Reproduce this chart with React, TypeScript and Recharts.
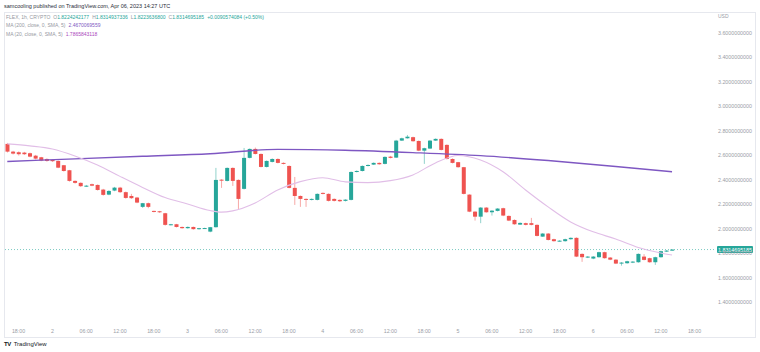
import React from "react";
import { ComposedChart, Bar, Line, XAxis, YAxis, ReferenceLine } from "recharts";

// FLEX 1h candles, 1 Apr 16:00 -> 6 Apr 14:00 (UTC)
const openP = [
  2.694, 2.631, 2.626, 2.623, 2.618, 2.598, 2.585, 2.571, 2.563, 2.555,
  2.52, 2.479, 2.392, 2.376, 2.349, 2.365, 2.359, 2.321, 2.28, 2.313,
  2.337, 2.3, 2.269, 2.256, 2.18, 2.21, 2.147, 2.144, 2.128, 2.033,
  2.038, 2.016, 2.006, 2.016, 1.998, 2.006, 1.978, 2.014, 2.402, 2.392,
  2.498, 2.4, 2.327, 2.58, 2.653, 2.612, 2.506, 2.547, 2.571, 2.539,
  2.514, 2.335, 2.269, 2.245, 2.237, 2.237, 2.294, 2.286, 2.245, 2.237,
  2.229, 2.237, 2.465, 2.473, 2.514, 2.525, 2.539, 2.531, 2.59, 2.582,
  2.721, 2.74, 2.749, 2.718, 2.639, 2.656, 2.721, 2.735, 2.686, 2.571,
  2.545, 2.504, 2.28, 2.141, 2.1, 2.174, 2.136, 2.147, 2.169, 2.106,
  2.073, 2.035, 2.047, 2.047, 2.033, 1.937, 1.962, 1.916, 1.9, 1.9,
  1.916, 1.927, 1.796, 1.766, 1.758, 1.769, 1.81, 1.766, 1.749, 1.717,
  1.72, 1.725, 1.728, 1.774, 1.761, 1.728, 1.769, 1.815, 1.8224,
];
const highP = [
  2.702, 2.637, 2.633, 2.629, 2.623, 2.604, 2.588, 2.576, 2.567, 2.559,
  2.522, 2.482, 2.396, 2.38, 2.359, 2.37, 2.363, 2.327, 2.316, 2.343,
  2.343, 2.305, 2.286, 2.261, 2.212, 2.215, 2.149, 2.147, 2.131, 2.041,
  2.041, 2.019, 2.02, 2.019, 2.008, 2.01, 2.016, 2.498, 2.406, 2.502,
  2.502, 2.404, 2.661, 2.657, 2.664, 2.616, 2.559, 2.576, 2.576, 2.543,
  2.518, 2.424, 2.273, 2.249, 2.249, 2.29, 2.298, 2.29, 2.249, 2.241,
  2.242, 2.469, 2.478, 2.518, 2.527, 2.543, 2.543, 2.592, 2.596, 2.727,
  2.745, 2.767, 2.753, 2.722, 2.663, 2.725, 2.739, 2.739, 2.69, 2.576,
  2.547, 2.506, 2.283, 2.144, 2.178, 2.178, 2.153, 2.17, 2.173, 2.11,
  2.078, 2.053, 2.051, 2.09, 2.037, 1.966, 1.966, 1.92, 1.908, 1.92,
  1.931, 1.931, 1.8, 1.778, 1.778, 1.814, 1.814, 1.77, 1.753, 1.729,
  1.74, 1.737, 1.8, 1.794, 1.765, 1.773, 1.822, 1.827, 1.8315,
];
const lowP = [
  2.624, 2.608, 2.599, 2.604, 2.585, 2.567, 2.553, 2.549, 2.547, 2.496,
  2.468, 2.386, 2.37, 2.343, 2.343, 2.349, 2.313, 2.272, 2.275, 2.308,
  2.294, 2.247, 2.245, 2.21, 2.171, 2.169, 2.135, 2.131, 2.027, 2.029,
  2.012, 2.002, 2.002, 1.994, 1.994, 2.002, 1.973, 2.011, 2.335, 2.388,
  2.351, 2.163, 2.322, 2.576, 2.608, 2.502, 2.502, 2.543, 2.535, 2.527,
  2.331, 2.196, 2.18, 2.18, 2.233, 2.233, 2.282, 2.224, 2.224, 2.22,
  2.224, 2.233, 2.461, 2.469, 2.51, 2.522, 2.524, 2.527, 2.576, 2.58,
  2.718, 2.737, 2.712, 2.635, 2.531, 2.653, 2.718, 2.641, 2.567, 2.535,
  2.5, 2.282, 2.137, 2.068, 2.047, 2.132, 2.109, 2.143, 2.104, 2.064,
  2.034, 2.033, 2.029, 2.029, 1.939, 1.935, 1.906, 1.896, 1.897, 1.896,
  1.912, 1.77, 1.731, 1.762, 1.753, 1.765, 1.757, 1.745, 1.713, 1.7,
  1.716, 1.721, 1.724, 1.743, 1.724, 1.706, 1.765, 1.812, 1.8224,
];
const closeP = [
  2.631, 2.615, 2.61, 2.61, 2.59, 2.574, 2.558, 2.555, 2.553, 2.5,
  2.473, 2.392, 2.376, 2.349, 2.353, 2.353, 2.318, 2.278, 2.31, 2.337,
  2.3, 2.253, 2.251, 2.215, 2.21, 2.18, 2.139, 2.136, 2.033, 2.038,
  2.016, 2.006, 2.016, 1.998, 2.006, 2.007, 2.014, 2.4, 2.394, 2.498,
  2.392, 2.245, 2.58, 2.653, 2.612, 2.506, 2.555, 2.571, 2.539, 2.531,
  2.335, 2.269, 2.245, 2.237, 2.245, 2.286, 2.286, 2.229, 2.229, 2.226,
  2.239, 2.465, 2.473, 2.514, 2.522, 2.539, 2.528, 2.588, 2.58, 2.721,
  2.74, 2.753, 2.716, 2.639, 2.659, 2.721, 2.735, 2.645, 2.571, 2.539,
  2.504, 2.286, 2.141, 2.1, 2.174, 2.136, 2.149, 2.166, 2.109, 2.068,
  2.038, 2.049, 2.033, 2.033, 1.943, 1.962, 1.91, 1.9, 1.904, 1.916,
  1.927, 1.774, 1.769, 1.774, 1.774, 1.81, 1.761, 1.749, 1.717, 1.725,
  1.736, 1.733, 1.796, 1.747, 1.728, 1.769, 1.818, 1.823, 1.8315,
];

// moving averages at sample candles: [candle index, value]
const ma200Pts: [number, number][] = [
  [0, 2.551], [12, 2.572], [24, 2.593], [36, 2.614], [48, 2.649], [60, 2.642],
  [72, 2.623], [84, 2.598], [96, 2.558], [108, 2.51], [118, 2.467],
];
const ma20Pts: [number, number][] = [
  [0, 2.694], [4, 2.678], [8, 2.653], [12, 2.596], [16, 2.522], [20, 2.429],
  [24, 2.339], [28, 2.256], [32, 2.204], [36, 2.15], [38, 2.137], [40, 2.147],
  [44, 2.212], [48, 2.318], [52, 2.386], [56, 2.418], [60, 2.384], [64, 2.378],
  [68, 2.394], [72, 2.441], [76, 2.539], [80, 2.6], [84, 2.563], [88, 2.467],
  [92, 2.318], [96, 2.18], [100, 2.057], [104, 1.976], [108, 1.918], [112, 1.849],
  [116, 1.804], [118, 1.787],
];

const xTickPos = [2, 8, 14, 20, 26, 32, 38, 44, 50, 56, 62, 68, 74, 80, 86, 92, 98, 104, 110, 116, 122];
const xTickLabels = [
  "18:00", "2", "06:00", "12:00", "18:00", "3", "06:00", "12:00", "18:00", "4", "06:00",
  "12:00", "18:00", "5", "06:00", "12:00", "18:00", "6", "06:00", "12:00", "18:00",
];
const yTicks = [1.4, 1.6, 1.8, 2.0, 2.2, 2.4, 2.6, 2.8, 3.0, 3.2, 3.4, 3.6];
const lastPrice = 1.8314695185;

const UP = "#26a69a";
const DOWN = "#ef5350";
const AXIS_TEXT = "#9a9da6";
const FONT = "'Liberation Sans', Arial, sans-serif";

const ma200Map = new Map(ma200Pts);
const ma20Map = new Map(ma20Pts);

const data = openP.map((o, i) => ({
  t: i,
  open: o,
  high: highP[i],
  low: lowP[i],
  close: closeP[i],
  range: [lowP[i], highP[i]],
  ma200: ma200Map.has(i) ? ma200Map.get(i) : null,
  ma20: ma20Map.has(i) ? ma20Map.get(i) : null,
}));

const Candle = (props: any) => {
  const { x, y, width, height, payload } = props;
  if (x == null || !payload) return null;
  const { open, close, high, low } = payload;
  const top = Math.min(y, y + height);
  const h = Math.abs(height);
  const k = high > low ? h / (high - low) : 0;
  const yO = top + (high - open) * k;
  const yC = top + (high - close) * k;
  const color = close >= open ? UP : DOWN;
  const cx = x + width / 2;
  const bodyTop = Math.min(yO, yC);
  const bodyH = Math.max(Math.abs(yO - yC), 1);
  return (
    <g>
      <line x1={cx} x2={cx} y1={top} y2={top + h} stroke={color} strokeOpacity={0.5} strokeWidth={1} />
      <rect x={cx - 2} y={bodyTop} width={4} height={bodyH} fill={color} />
    </g>
  );
};

const PriceTag = (props: any) => {
  const vb = props.viewBox;
  if (!vb) return null;
  const x = vb.x + vb.width + 3;
  return (
    <g>
      <rect x={x} y={vb.y - 3.5} width={36} height={7} fill={UP} rx={1} />
      <text x={x + 18} y={vb.y + 2} textAnchor="middle" fill="#fff" fontSize={5.3} fontFamily={FONT}>
        {lastPrice.toFixed(10)}
      </text>
    </g>
  );
};

const gray = { color: "#9598a1" };

export default function App() {
  return (
    <div style={{ position: "absolute", left: 0, top: 0, width: 760, height: 352, background: "#fff", fontFamily: FONT, overflow: "hidden" }}>
      <div style={{ position: "absolute", left: 4, top: 3, fontSize: 5.5, color: "#2a2e39", whiteSpace: "nowrap" }}>
        samcooling published on TradingView.com, Apr 06, 2023 14:27 UTC
      </div>
      <div style={{ position: "absolute", left: 4, top: 12, width: 750, height: 324, border: "1px solid #e6e8ee" }} />

      <ComposedChart
        width={760}
        height={352}
        data={data}
        margin={{ top: 12, right: 5, left: 4, bottom: 15 }}
        style={{ position: "absolute", left: 0, top: 0 }}
      >
        <XAxis
          dataKey="t"
          type="number"
          domain={[-0.586, 125.45]}
          allowDataOverflow
          ticks={xTickPos}
          interval={0}
          tickFormatter={(v) => xTickLabels[xTickPos.indexOf(v)] ?? ""}
          axisLine={false}
          tickLine={false}
          tickSize={0}
          tickMargin={7}
          height={15}
          tick={{ fill: AXIS_TEXT, fontSize: 5.3, fontFamily: FONT }}
        />
        <YAxis
          orientation="right"
          domain={[1.24, 3.771]}
          allowDataOverflow
          ticks={yTicks}
          interval={0}
          tickFormatter={(v) => Number(v).toFixed(10)}
          axisLine={false}
          tickLine={false}
          tickSize={0}
          tickMargin={4}
          width={41}
          tick={{ fill: AXIS_TEXT, fontSize: 5.3, fontFamily: FONT, textAnchor: "start" }}
        />
        <ReferenceLine y={lastPrice} stroke={UP} strokeOpacity={0.6} strokeDasharray="1 2" label={(p: any) => <PriceTag {...p} />} />
        <Bar dataKey="range" barSize={4} shape={(p: any) => <Candle {...p} />} isAnimationActive={false} />
        <Line dataKey="ma200" type="monotone" stroke="#7e57c2" strokeWidth={1.4} dot={false} connectNulls isAnimationActive={false} />
        <Line dataKey="ma20" type="monotone" stroke="#e1bee7" strokeWidth={1.1} dot={false} connectNulls isAnimationActive={false} />
      </ComposedChart>

      <div style={{ position: "absolute", left: 6, top: 13, lineHeight: "8.3px", fontSize: 5, whiteSpace: "nowrap" }}>
        <div>
          <span style={gray}>FLEX, 1h, CRYPTO</span>
          <span style={{ marginLeft: 3, ...gray }}>O</span><span style={{ color: UP }}>1.8224242177</span>
          <span style={{ marginLeft: 3, ...gray }}>H</span><span style={{ color: UP }}>1.8314937336</span>
          <span style={{ marginLeft: 3, ...gray }}>L</span><span style={{ color: UP }}>1.8223636800</span>
          <span style={{ marginLeft: 3, ...gray }}>C</span><span style={{ color: UP }}>1.8314695185</span>
          <span style={{ marginLeft: 3, color: UP }}>+0.0090574084 (+0.50%)</span>
        </div>
        <div>
          <span style={gray}>MA (200, close, 0, SMA, 5)</span>
          <span style={{ marginLeft: 3, color: "#7e57c2" }}>2.4670069559</span>
        </div>
        <div>
          <span style={gray}>MA (20, close, 0, SMA, 5)</span>
          <span style={{ marginLeft: 3, color: "#ab47bc" }}>1.7865843118</span>
        </div>
      </div>
      <div style={{ position: "absolute", left: 718, top: 13, fontSize: 5, color: AXIS_TEXT }}>USD</div>

      <div style={{ position: "absolute", left: 4, top: 341, fontSize: 6, color: "#131722", whiteSpace: "nowrap" }}>
        <span style={{ fontWeight: 700, letterSpacing: -0.5 }}>TV</span>
        <span style={{ marginLeft: 3 }}>TradingView</span>
      </div>
    </div>
  );
}
